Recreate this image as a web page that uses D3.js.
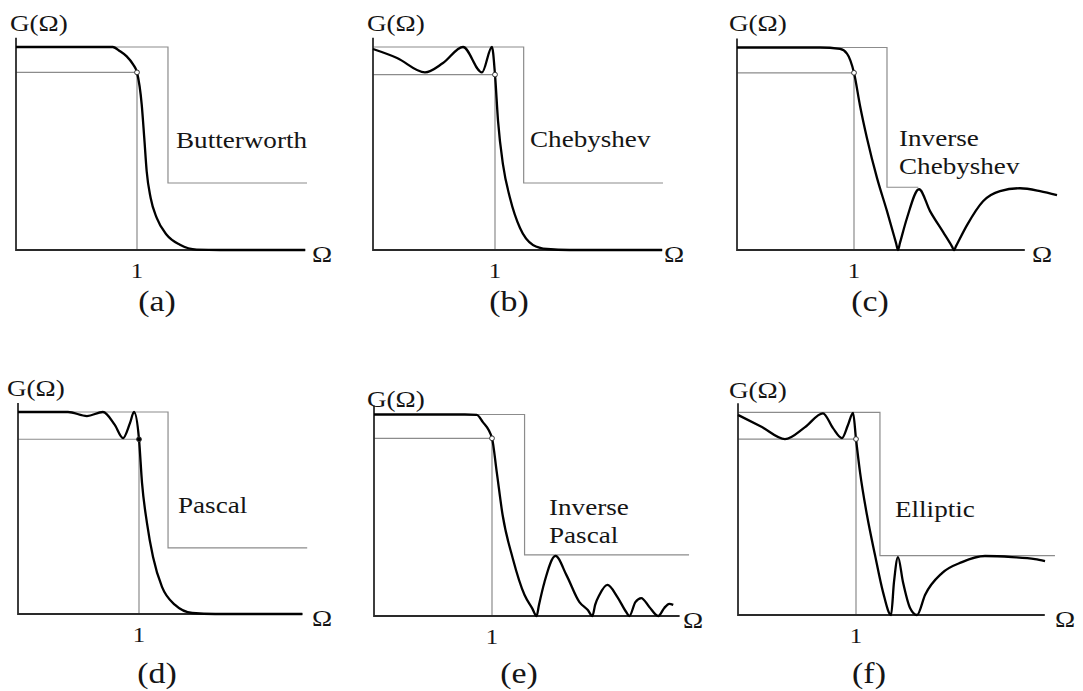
<!DOCTYPE html>
<html>
<head>
<meta charset="utf-8">
<script src="https://cdn.jsdelivr.net/npm/d3@7"></script>
<style>
  body { margin: 0; background: #fff; }
  text { font-family: "Liberation Serif", "Times New Roman", serif; fill: #151515; }
</style>
</head>
<body>
<svg></svg>
<script>
const width = 1083;
const height = 691;

// names of the responses and panel tags
const names = [["Butterworth"], ["Chebyshev"], ["Inverse", "Chebyshev"], ["Pascal"], ["Inverse", "Pascal"], ["Elliptic"]];
const tags = ["(a)", "(b)", "(c)", "(d)", "(e)", "(f)"];
const tickLabel = "1";
const yLabel = "G(\u03A9)";
const xLabel = "\u03A9";

// gain curves, [Omega, G]
const butterworth = [[0, 1], [0.80, 1], [0.86, 0.979], [0.915, 0.954], [0.969, 0.913], [1, 0.875], [1.039, 0.716],
  [1.06, 0.552], [1.08, 0.388], [1.113, 0.256], [1.163, 0.158], [1.245, 0.075], [1.355, 0.026], [1.493, 0.002], [1.686, 0], [2.39, 0]];
const chebyshev = [[0, 0.99], [0.197, 0.946], [0.426, 0.875], [0.574, 0.921], [0.738, 1], [0.893, 0.875], [0.975, 1],
  [1, 0.864], [1.025, 0.635], [1.066, 0.419], [1.123, 0.256], [1.205, 0.108], [1.311, 0.025], [1.426, 0.005], [1.61, 0], [2.37, 0]];
const invChebyshev = [[0, 1], [0.71, 1], [0.88, 0.993], [0.94, 0.97], [1, 0.875], [1.051, 0.714], [1.111, 0.552],
  [1.197, 0.355], [1.282, 0.192], [1.359, 0.035], [1.376, 0], [1.393, 0.035], [1.453, 0.158], [1.556, 0.30], [1.65, 0.192],
  [1.761, 0.089], [1.838, 0.017], [1.855, 0], [1.872, 0.019], [1.966, 0.123], [2.103, 0.241], [2.248, 0.291], [2.419, 0.305],
  [2.59, 0.291], [2.735, 0.271]];
const pascal = [[0, 1], [0.413, 1], [0.57, 0.98], [0.702, 1], [0.80, 0.936], [0.868, 0.871], [0.926, 0.946], [0.959, 1],
  [1, 0.866], [1.025, 0.649], [1.066, 0.45], [1.116, 0.282], [1.19, 0.134], [1.298, 0.045], [1.44, 0.005], [1.63, 0], [2.35, 0]];
const invPascal = [[0, 1], [0.77, 1], [0.871, 0.998], [0.921, 0.963], [1, 0.882], [1.04, 0.715], [1.09, 0.501], [1.175, 0.288],
  [1.276, 0.104], [1.341, 0.038], [1.378, 0], [1.398, 0.055], [1.445, 0.169], [1.538, 0.298], [1.631, 0.203], [1.741, 0.069],
  [1.812, 0.03], [1.851, 0], [1.874, 0.055], [1.91, 0.104], [1.978, 0.154], [2.063, 0.094], [2.136, 0.021], [2.164, 0],
  [2.215, 0.069], [2.265, 0.089], [2.333, 0.045], [2.409, 0], [2.46, 0.04], [2.502, 0.06], [2.536, 0.055]];
const elliptic = [[0, 0.987], [0.203, 0.927], [0.398, 0.868], [0.568, 0.927], [0.72, 0.995], [0.805, 0.922], [0.881, 0.873],
  [0.932, 0.937], [0.975, 0.997], [1, 0.868], [1.034, 0.705], [1.093, 0.493], [1.161, 0.296], [1.229, 0.113], [1.297, 0],
  [1.322, 0.163], [1.356, 0.286], [1.398, 0.163], [1.458, 0.035], [1.517, 0], [1.585, 0.099], [1.729, 0.207], [1.898, 0.261],
  [2.093, 0.291], [2.322, 0.286], [2.517, 0.276], [2.602, 0.266]];
const curves = [butterworth, chebyshev, invChebyshev, pascal, invPascal, elliptic];

// spec mask per panel
const passGain = [0.875, 0.864, 0.875, 0.865, 0.882, 0.868];
const stopStart = [1.256, 1.235, 1.282, 1.24, 1.276, 1.203];
const stopGain = [0.33, 0.33, 0.31, 0.327, 0.303, 0.293];
const stopEnd = [2.405, 2.377, 1.55, 2.39, 2.67, 2.686];
const axisEnd = [2.39, 2.37, 2.46, 2.35, 2.59, 2.6];
const filledDot = [false, false, false, true, false, false];

// where each small chart sits on the page
const frames = [
  { x0: 16, x1: 137, base: 250, top: 47, gX: 10, gY: 31, nameX: 176, nameY: 148, tagX: 157, tagY: 311, omegaX: 312 },
  { x0: 373, x1: 495, base: 250, top: 47, gX: 367, gY: 31, nameX: 530, nameY: 147, tagX: 509, tagY: 311, omegaX: 664 },
  { x0: 737, x1: 854, base: 250, top: 47.5, gX: 729, gY: 31, nameX: 899, nameY: 146, tagX: 870, tagY: 311, omegaX: 1032 },
  { x0: 18, x1: 139, base: 614, top: 412, gX: 7, gY: 396, nameX: 178, nameY: 513, tagX: 157, tagY: 683, omegaX: 312 },
  { x0: 374, x1: 492, base: 616, top: 414.5, gX: 367, gY: 407, nameX: 549, nameY: 515, tagX: 519, tagY: 683, omegaX: 683 },
  { x0: 738, x1: 856, base: 615, top: 412.3, gX: 729, gY: 398, nameX: 895, nameY: 517, tagX: 869, tagY: 683, omegaX: 1055 }
];

const stretch = 1.13; // the figure's lettering is a little wide

var svg = d3.select("svg")
  .attr("width", width)
  .attr("height", height);

function label(g, str, x, y, size, anchor) {
  g.append("text")
    .attr("transform", "translate(" + x + "," + y + ") scale(" + stretch + ",1)")
    .attr("font-size", size)
    .attr("text-anchor", anchor || "start")
    .text(str);
}

frames.forEach(function (f, i) {
  const x = d3.scaleLinear().domain([0, 1]).range([f.x0, f.x1]);
  const y = d3.scaleLinear().domain([0, 1]).range([f.base, f.top]);
  const g = svg.append("g").attr("class", "panel");
  const grey = "#8c8c8c";

  // spec mask
  g.append("path")
    .attr("fill", "none")
    .attr("stroke", grey)
    .attr("stroke-width", 1.2)
    .attr("d", d3.line()([[x(0), y(1)], [x(stopStart[i]), y(1)], [x(stopStart[i]), y(stopGain[i])], [x(stopEnd[i]), y(stopGain[i])]]));

  // passband edge and cutoff
  g.append("path")
    .attr("fill", "none")
    .attr("stroke", grey)
    .attr("stroke-width", 1.2)
    .attr("d", d3.line()([[x(0), y(passGain[i])], [x(1), y(passGain[i])], [x(1), y(0)]]));

  // axes
  g.append("path")
    .attr("fill", "none")
    .attr("stroke", "#2a2a2a")
    .attr("stroke-width", 1.8)
    .attr("d", d3.line()([[x(0), y(1.045)], [x(0), y(0)], [x(axisEnd[i]), y(0)]]));

  // response
  g.append("path")
    .datum(curves[i])
    .attr("fill", "none")
    .attr("stroke", "#000")
    .attr("stroke-width", 2.3)
    .attr("stroke-linejoin", "round")
    .attr("d", d3.line()
      .x(d => x(d[0]))
      .y(d => y(d[1]))
      .curve(d3.curveMonotoneX));

  g.append("circle")
    .attr("cx", x(1))
    .attr("cy", y(passGain[i]))
    .attr("r", 2.4)
    .attr("fill", filledDot[i] ? "#000" : "#fff")
    .attr("stroke", "#333")
    .attr("stroke-width", 1);

  // text
  label(g, yLabel, f.gX, f.gY, 24);
  label(g, xLabel, f.omegaX, f.base + 12, 24);
  label(g, tickLabel, x(1), f.base + 28, 22, "middle");
  names[i].forEach(function (n, k) {
    label(g, n, f.nameX, f.nameY + k * 28, 24);
  });
  label(g, tags[i], f.tagX, f.tagY, 30, "middle");
});
</script>
</body>
</html>
